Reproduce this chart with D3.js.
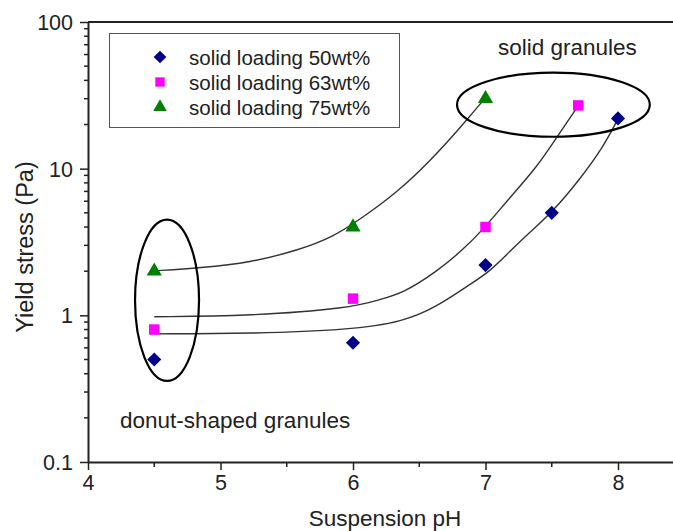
<!DOCTYPE html>
<html>
<head>
<meta charset="utf-8">
<script src="https://cdn.jsdelivr.net/npm/d3@7"></script>
<style>
  html, body { margin: 0; padding: 0; background: #fff; }
  svg { display: block; font-family: "Liberation Sans", Arial, sans-serif; }
</style>
</head>
<body>
<svg id="chart" width="673" height="531"></svg>
<script>
// ---- data ----
const seriesNames = ["solid loading 50wt%", "solid loading 63wt%", "solid loading 75wt%"];
const seriesColors = ["#00008b", "#ff00ff", "#008000"];

const pH50 = [4.5, 6, 7, 7.5, 8];
const stress50 = [0.5, 0.65, 2.2, 5.0, 22];
const pH63 = [4.5, 6, 7, 7.7];
const stress63 = [0.8, 1.3, 4.0, 27];
const pH75 = [4.5, 6, 7];
const stress75 = [2.0, 4.0, 30];

// fitted trend curves
const fitPH50 = [4.5, 5.22, 5.98, 6.38, 6.63, 6.88, 7.03, 7.18, 7.34, 7.5, 7.71, 7.89, 8.0];
const fitY50 = [0.748, 0.75, 0.796, 0.904, 1.14, 1.62, 1.98, 2.71, 3.72, 5.01, 8.41, 14.1, 21.9];
const fitPH63 = [4.5, 5.22, 5.98, 6.2, 6.38, 6.63, 6.83, 6.98, 7.17, 7.39, 7.54, 7.7];
const fitY63 = [0.977, 0.99, 1.12, 1.28, 1.42, 1.98, 2.8, 3.83, 6.14, 10.3, 16.5, 26.9];
const fitPH75 = [4.5, 4.85, 5.22, 5.6, 5.85, 6.05, 6.33, 6.58, 6.83, 7.0];
const fitY75 = [2.01, 2.11, 2.28, 2.8, 3.43, 4.49, 6.86, 11.2, 20.0, 30.5];

const xTicks = [4, 5, 6, 7, 8];
const xMinorTicks = [4.5, 5.5, 6.5, 7.5];
const yTicks = [0.1, 1, 10, 100];
const yTickLabels = ["0.1", "1", "10", "100"];

const annotations = ["solid granules", "donut-shaped granules"];
// ellipse bounds in data units: [pH min, pH max], [stress min, stress max]
const ellipseLeftPH = [4.355, 4.838];
const ellipseLeftY = [0.357, 4.49];
const ellipseRightPH = [6.785, 8.24];
const ellipseRightY = [16.5, 45.2];

// ---- drawing ----
(function () {
const svg = d3.select("#chart");
const mLeft = 88, mTop = 22, mBottom = 462;
const x = d3.scaleLinear().domain([4, 8.5]).range([mLeft, mLeft + 4.5 * 132.5]);
const y = d3.scaleLog().domain([0.1, 100]).range([mBottom, mTop]);

const axisColor = "#222";

// top frame line
svg.append("line").attr("x1", mLeft).attr("x2", 680).attr("y1", mTop).attr("y2", mTop)
  .attr("stroke", axisColor).attr("stroke-width", 2);

// x axis
const xAxis = svg.append("g").attr("transform", `translate(0,${mBottom})`)
  .call(d3.axisBottom(x).tickValues(xTicks).tickFormat(d3.format("d")).tickSize(8).tickSizeOuter(0));
xAxis.select(".domain").attr("stroke", axisColor).attr("stroke-width", 2);
xAxis.selectAll(".tick line").attr("stroke", axisColor).attr("stroke-width", 1.5);
xAxis.selectAll(".tick text").attr("font-size", 21.5).attr("fill", "#222")
  .attr("font-family", "Liberation Sans, Arial, sans-serif").attr("dy", "0.95em").attr("y", 8);
xAxis.selectAll(".minor").data(xMinorTicks).enter().append("line")
  .attr("x1", d => x(d)).attr("x2", d => x(d)).attr("y1", 0).attr("y2", 5)
  .attr("stroke", axisColor).attr("stroke-width", 1.5);

// y axis
const yMinor = [];
[0.1, 1, 10].forEach(dec => {
  for (let k = 2; k <= 9; k++) yMinor.push(dec * k);
});
const yAxis = svg.append("g").attr("transform", `translate(${mLeft},0)`)
  .call(d3.axisLeft(y).tickValues(yTicks).tickFormat((d, i) => yTickLabels[i]).tickSize(8).tickSizeOuter(0));
yAxis.select(".domain").attr("stroke", axisColor).attr("stroke-width", 2);
yAxis.selectAll(".tick line").attr("stroke", axisColor).attr("stroke-width", 1.5);
yAxis.selectAll(".tick text").attr("font-size", 21.5).attr("fill", "#222")
  .attr("font-family", "Liberation Sans, Arial, sans-serif").attr("x", -15).attr("dy", "0.35em");
yAxis.selectAll(".minor").data(yMinor).enter().append("line")
  .attr("x1", -4).attr("x2", 0).attr("y1", d => y(d)).attr("y2", d => y(d))
  .attr("stroke", axisColor).attr("stroke-width", 1.5);

// axis titles
svg.append("text").attr("x", 385).attr("y", 526).attr("text-anchor", "middle")
  .attr("font-size", 22.5).attr("fill", "#222").text("Suspension pH");
svg.append("text").attr("transform", "translate(33,247) rotate(-90)").attr("text-anchor", "middle")
  .attr("font-size", 23.5).attr("fill", "#222").text("Yield stress (Pa)");

// fitted curves
const line = d3.line().x(d => x(d[0])).y(d => y(d[1])).curve(d3.curveBasis);
const fits = [
  d3.zip(fitPH50, fitY50),
  d3.zip(fitPH63, fitY63),
  d3.zip(fitPH75, fitY75)
];
svg.selectAll(".fit").data(fits).enter().append("path")
  .attr("d", line).attr("fill", "none").attr("stroke", "#333").attr("stroke-width", 1.4);

// ellipses
function drawEllipse(px, py) {
  const x0 = x(px[0]), x1 = x(px[1]), y0 = y(py[1]), y1 = y(py[0]);
  svg.append("ellipse").attr("cx", (x0 + x1) / 2).attr("cy", (y0 + y1) / 2)
    .attr("rx", (x1 - x0) / 2).attr("ry", (y1 - y0) / 2)
    .attr("fill", "none").attr("stroke", "#000").attr("stroke-width", 2.2);
}
drawEllipse(ellipseLeftPH, ellipseLeftY);
drawEllipse(ellipseRightPH, ellipseRightY);

// markers: diamond = square rotated 45deg
const symbols = [d3.symbolSquare, d3.symbolSquare, d3.symbolTriangle];
const symSizes = [100, 110, 100];
const symRot = [" rotate(45)", "", ""];
const series = [
  d3.zip(pH50, stress50),
  d3.zip(pH63, stress63),
  d3.zip(pH75, stress75)
];
series.forEach((pts, i) => {
  const sym = d3.symbol().type(symbols[i]).size(symSizes[i]);
  svg.selectAll(".s" + i).data(pts).enter().append("path")
    .attr("d", sym)
    .attr("transform", d => `translate(${x(d[0])},${y(d[1])})` + symRot[i])
    .attr("fill", seriesColors[i]);
});

// legend
const legend = svg.append("g");
legend.append("rect").attr("x", 109.5).attr("y", 33.5).attr("width", 290).attr("height", 94)
  .attr("fill", "#fff").attr("stroke", "#555").attr("stroke-width", 1);
seriesNames.forEach((name, i) => {
  const ly = 57 + i * 25;
  legend.append("path").attr("d", d3.symbol().type(symbols[i]).size(symSizes[i] * 0.8)())
    .attr("transform", `translate(160,${ly})` + symRot[i])
    .attr("fill", seriesColors[i]);
  legend.append("text").attr("x", 189).attr("y", ly + 7.5)
    .attr("font-size", 20.5).attr("fill", "#222").text(name);
});

// annotations
svg.append("text").attr("x", 498).attr("y", 55).attr("font-size", 22.5).attr("fill", "#222").text(annotations[0]);
svg.append("text").attr("x", 120).attr("y", 428).attr("font-size", 22.5).attr("fill", "#222").text(annotations[1]);
})();
</script>
</body>
</html>
